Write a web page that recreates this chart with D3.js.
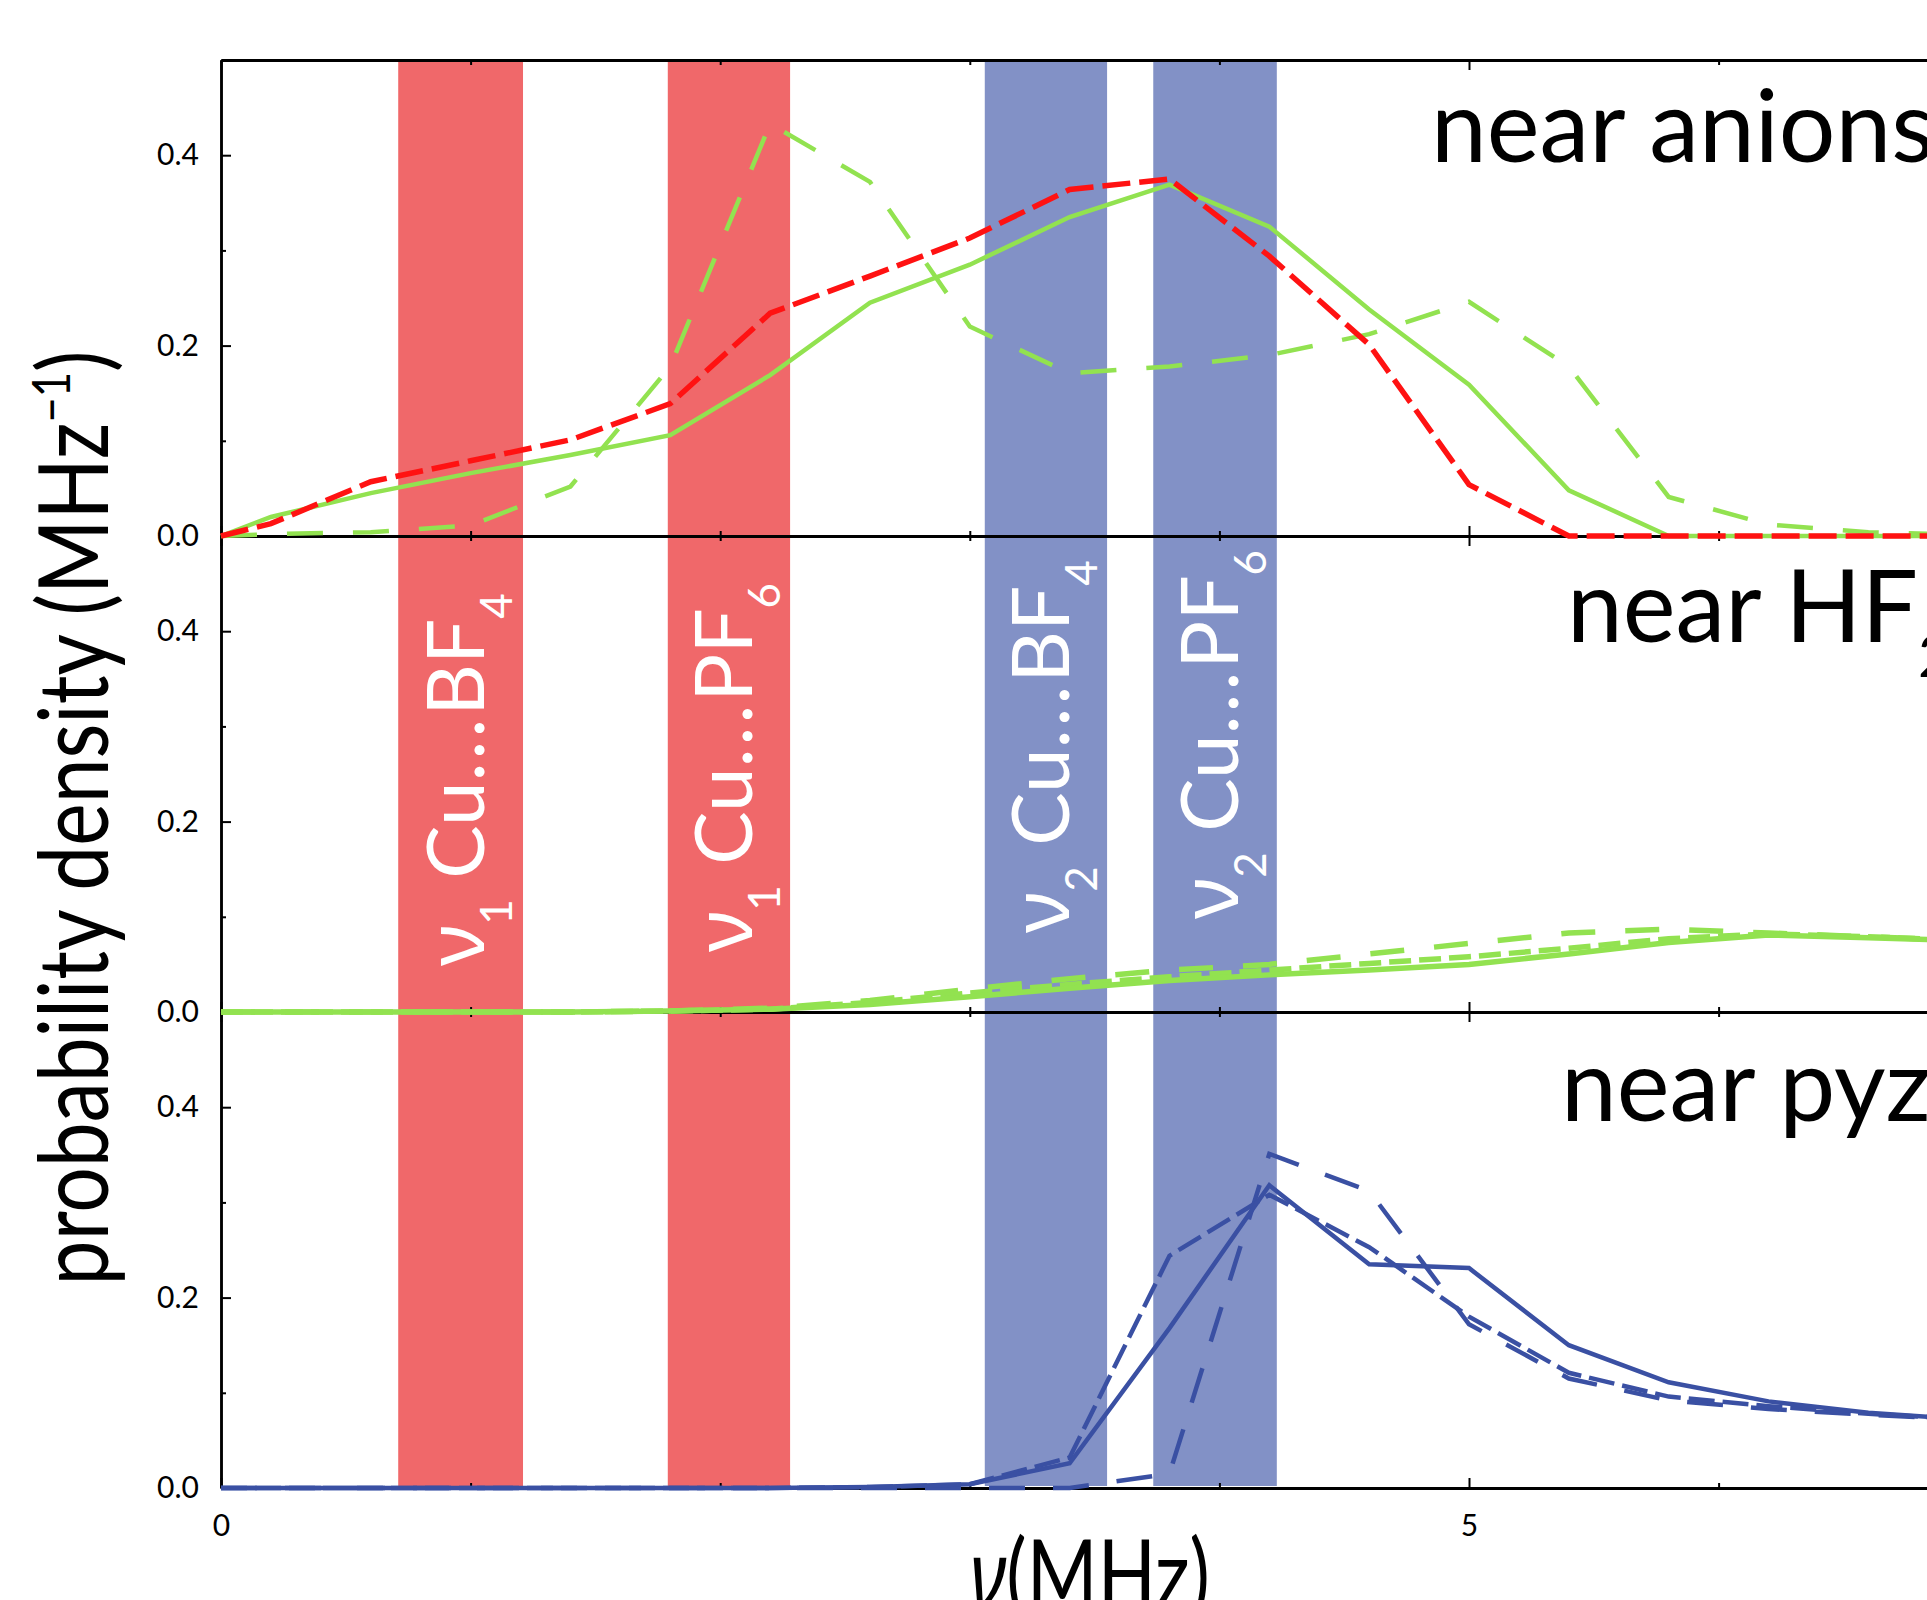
<!DOCTYPE html>
<html>
<head>
<meta charset="utf-8">
<script src="https://cdn.jsdelivr.net/npm/d3@7"></script>
<style>
  body { margin: 0; background: #fff; }
  svg { display: block; }
  text { font-family: Lato, "Open Sans", sans-serif; }
  .nu { font-family: "Noto Sans", "Open Sans", sans-serif; }
</style>
</head>
<body>
<svg id="chart" width="1927" height="1600"></svg>
<script>
// frequency grid (MHz) shared by every curve
const nuGrid = [0, 0.2, 0.6, 1.0, 1.4, 1.8, 2.2, 2.6, 3.0, 3.4, 3.8, 4.2, 4.6, 5.0, 5.4, 5.8, 6.2, 6.6, 7.0];

// near anions
const anionsRedDash   = [0, 0.013, 0.057, 0.079, 0.101, 0.139, 0.234, 0.273, 0.313, 0.364, 0.375, 0.294, 0.201, 0.054, 0, 0, 0, 0, 0];
const anionsGreen     = [0, 0.020, 0.045, 0.066, 0.085, 0.106, 0.169, 0.245, 0.285, 0.335, 0.369, 0.325, 0.238, 0.159, 0.048, 0, 0, 0, 0];
const anionsGreenDash = [0, 0.002, 0.004, 0.011, 0.052, 0.178, 0.433, 0.372, 0.220, 0.171, 0.178, 0.190, 0.212, 0.246, 0.178, 0.041, 0.012, 0.004, 0.001];

// near HF2
const hf2Solid     = [0, 0, 0, 0, 0, 0.001, 0.003, 0.008, 0.016, 0.025, 0.033, 0.039, 0.044, 0.050, 0.061, 0.073, 0.081, 0.078, 0.075];
const hf2LongDash  = [0, 0, 0, 0, 0, 0.001, 0.004, 0.012, 0.024, 0.035, 0.044, 0.050, 0.061, 0.072, 0.083, 0.087, 0.083, 0.079, 0.075];
const hf2ShortDash = [0, 0, 0, 0, 0, 0.001, 0.003, 0.010, 0.020, 0.029, 0.037, 0.044, 0.051, 0.058, 0.067, 0.077, 0.082, 0.079, 0.075];

// near pyz
const pyzSolid    = [0, 0, 0, 0, 0, 0, 0, 0.001, 0.004, 0.026, 0.168, 0.318, 0.235, 0.231, 0.150, 0.111, 0.091, 0.079, 0.072];
const pyzDash     = [0, 0, 0, 0, 0, 0, 0, 0.001, 0.004, 0.032, 0.244, 0.308, 0.253, 0.180, 0.121, 0.096, 0.086, 0.078, 0.072];
const pyzLongDash = [0, 0, 0, 0, 0, 0, 0, 0, 0, 0, 0.015, 0.351, 0.312, 0.172, 0.115, 0.092, 0.083, 0.077, 0.072];

// shaded frequency bands (MHz)
const bandRanges = [[0.71, 1.21], [1.79, 2.28], [3.06, 3.55], [3.735, 4.23]];
const bandNuIndex = ["1", "1", "2", "2"];
const bandAnion = ["BF", "PF", "BF", "PF"];
const bandAnionSub = ["4", "6", "4", "6"];

const panelTitles = ["near anions", "near HF", "near pyz"];
const panelTitleSubs = ["", "2", ""];

const yMajorTicks = [0, 0.2, 0.4];
const yMinorTicks = [0.1, 0.3];
const xMajorTicks = [0, 5];
const xMinorTicks = [1, 2, 3, 4, 6];

const GREEN = "#92e250", RED = "#ff1212", BLUE = "#3a50a3";
const BAND_RED = "#f0686a", BAND_BLUE = "#8291c6";

const panels = [
    [
        { values: anionsGreenDash, color: GREEN, width: 4.5, dash: "36,30" },
        { values: anionsGreen, color: GREEN, width: 4.5, dash: null },
        { values: anionsRedDash, color: RED, width: 5.5, dash: "28,9" },
    ],
    [
        { values: hf2LongDash, color: GREEN, width: 5.5, dash: "34,30" },
        { values: hf2ShortDash, color: GREEN, width: 5.5, dash: "22,8" },
        { values: hf2Solid, color: GREEN, width: 5.5, dash: null },
    ],
    [
        { values: pyzLongDash, color: BLUE, width: 4.5, dash: "36,28" },
        { values: pyzDash, color: BLUE, width: 4.5, dash: "26,8" },
        { values: pyzSolid, color: BLUE, width: 4.5, dash: null },
    ],
];

const W = 1927, H = 1600;
const left = 221, top0 = 60, panelH = 476;

const x = d3.scaleLinear().domain([0, 5]).range([left, 1469]);
x.domain([0, x.invert(W)]).range([left, W]);

const ys = panels.map((p, i) => d3.scaleLinear()
    .domain([0, 0.5])
    .range([top0 + (i + 1) * panelH, top0 + i * panelH]));

const svg = d3.select("#chart");

// bands
const bandBottom = ys[2](0) - 2;
svg.append("g").selectAll("rect")
    .data(bandRanges)
    .join("rect")
    .attr("x", d => x(d[0]))
    .attr("width", d => x(d[1]) - x(d[0]))
    .attr("y", top0)
    .attr("height", bandBottom - top0)
    .attr("fill", (d, i) => i < 2 ? BAND_RED : BAND_BLUE);

// band labels
const labelStart = [966, 952, 933, 919];
bandRanges.forEach((b, i) => {
    const cx = (x(b[0]) + x(b[1])) / 2 + 23;
    const t = svg.append("text")
        .attr("transform", `translate(${cx},${labelStart[i]}) rotate(-90)`)
        .attr("fill", "#fff")
        .attr("font-size", 80);
    t.append("tspan").attr("class", "nu").text("ν");
    t.append("tspan").attr("font-size", 44).attr("dy", 28).text(bandNuIndex[i]);
    t.append("tspan").attr("dy", -28).text(" Cu");
    t.append("tspan").attr("letter-spacing", 3).text("...");
    t.append("tspan").text(bandAnion[i]);
    t.append("tspan").attr("font-size", 44).attr("dy", 28).text(bandAnionSub[i]);
});

// axes
function styleAxis(g, w) {
    g.select(".domain").attr("stroke-width", w);
    g.selectAll(".tick line").attr("stroke-width", 2);
    g.selectAll(".tick text").attr("font-size", 30).attr("font-family", "Lato, 'Open Sans', sans-serif");
}

ys.forEach((y, i) => {
    const last = i === ys.length - 1;

    const bottom = svg.append("g").attr("transform", `translate(0,${y(0)})`);
    bottom.append("g")
        .call(d3.axisBottom(x).tickValues(xMinorTicks).tickSize(-5).tickSizeOuter(0).tickFormat(""))
        .call(g => styleAxis(g, 3));
    bottom.append("g")
        .call(d3.axisBottom(x).tickValues(xMajorTicks).tickSize(-10).tickSizeOuter(0).tickPadding(27)
            .tickFormat(d => last ? d : ""))
        .call(g => styleAxis(g, 3));

    const topAx = svg.append("g").attr("transform", `translate(0,${y(0.5)})`);
    topAx.append("g")
        .call(d3.axisTop(x).tickValues(xMinorTicks).tickSize(-5).tickSizeOuter(0).tickFormat(""))
        .call(g => styleAxis(g, 3));
    topAx.append("g")
        .call(d3.axisTop(x).tickValues(xMajorTicks).tickSize(-10).tickSizeOuter(0).tickFormat(""))
        .call(g => styleAxis(g, 3));

    const leftAx = svg.append("g").attr("transform", `translate(${left},0)`);
    leftAx.append("g")
        .call(d3.axisLeft(y).tickValues(yMinorTicks).tickSize(-5).tickSizeOuter(0).tickFormat(""))
        .call(g => styleAxis(g, 2.5));
    leftAx.append("g")
        .call(d3.axisLeft(y).tickValues(yMajorTicks).tickSize(-10).tickSizeOuter(0).tickPadding(22)
            .tickFormat(d3.format(".1f")))
        .call(g => styleAxis(g, 2.5));
});

// curves
panels.forEach((series, i) => {
    const y = ys[i];
    const line = d3.line()
        .x((d, j) => x(nuGrid[j]))
        .y(d => y(d));
    svg.append("g")
        .selectAll("path")
        .data(series)
        .join("path")
        .attr("d", d => line(d.values))
        .attr("fill", "none")
        .attr("stroke", d => d.color)
        .attr("stroke-width", d => d.width)
        .attr("stroke-dasharray", d => d.dash)
        .attr("stroke-linejoin", "miter");
});

// panel titles (right part runs past the page edge, as in the original)
const titleX = [1431, 1567, 1561];
const titleBase = [162, 642, 1121];
panelTitles.forEach((name, i) => {
    const t = svg.append("text")
        .attr("x", titleX[i])
        .attr("y", titleBase[i])
        .attr("font-size", 100)
        .attr("fill", "#000");
    t.append("tspan").text(name);
    if (panelTitleSubs[i]) {
        t.append("tspan").attr("font-size", 58).attr("dy", 35).text(panelTitleSubs[i]);
    }
});

// axis titles, squeezed to the condensed width of the original
function fitWidth(sel, cx, cy, rot, target) {
    const len = sel.node().getComputedTextLength();
    sel.attr("transform", `translate(${cx},${cy}) rotate(${rot}) scale(${target / len},1)`);
}

const yTitle = svg.append("text")
    .attr("text-anchor", "middle")
    .attr("font-size", 96)
    .attr("fill", "#000");
yTitle.append("tspan").text("probability density (MHz");
yTitle.append("tspan").attr("font-size", 52).attr("dy", -38).text("−1");
yTitle.append("tspan").attr("dy", 38).text(")");
fitWidth(yTitle, 108, 818, -90, 935);

const xTitle = svg.append("text")
    .attr("text-anchor", "middle")
    .attr("font-size", 96)
    .attr("fill", "#000");
xTitle.append("tspan").attr("class", "nu").attr("font-style", "italic").text("ν");
xTitle.append("tspan").text("(MHz)");
fitWidth(xTitle, 1090, 1609, 0, 240);
</script>
</body>
</html>
